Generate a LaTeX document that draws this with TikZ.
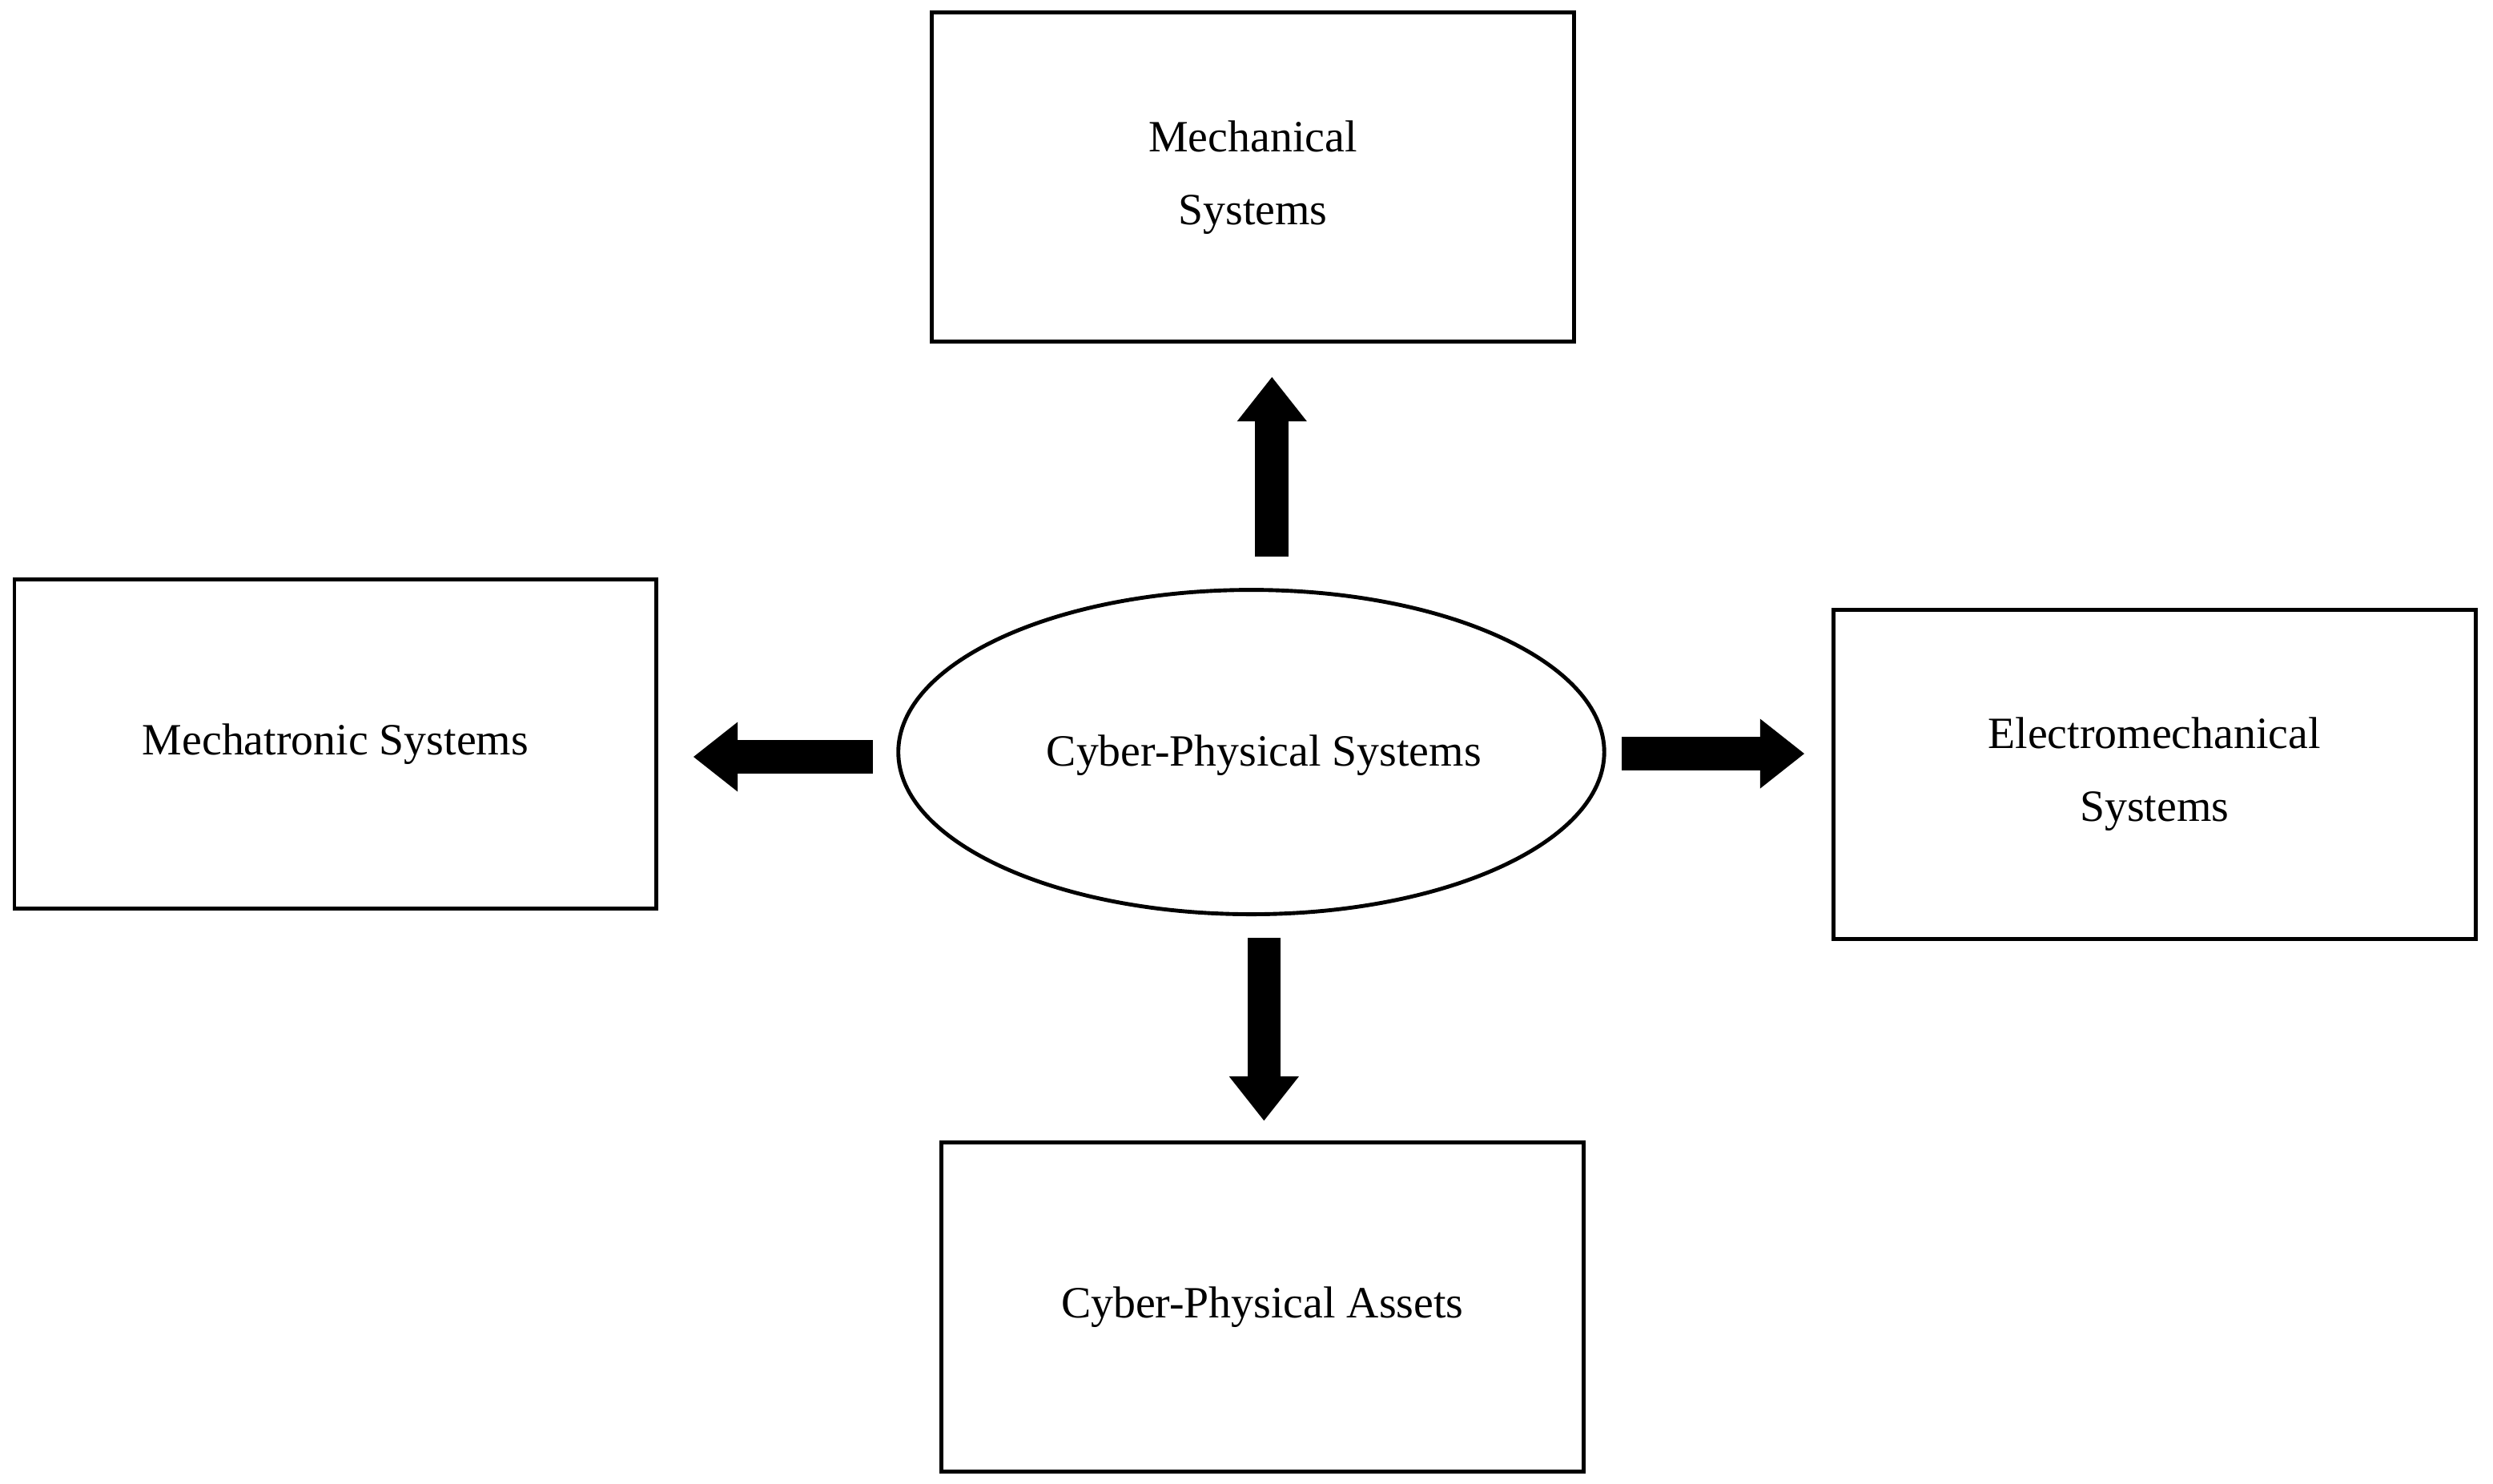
\documentclass[tikz,border=0pt]{standalone}
\usepackage{fontspec}
\setmainfont{Liberation Serif}
\usetikzlibrary{arrows.meta}
\begin{document}
\begin{tikzpicture}[x=0.02cm,y=-0.02cm,
  box/.style={draw,line width=1.4pt,minimum width=8.08cm,minimum height=4.14cm,align=center,font=\fontsize{16}{26}\selectfont},
  big/.style={line width=0.42cm,-{Triangle[length=0.56cm,width=0.84cm]}}]
\useasboundingbox (0,0) rectangle (1568,933);
\node[box] (mech) at (788,111.5) {Mechanical\\Systems};
\node[box] (mtr) at (211,468) {Mechatronic Systems};
\node[box] (em) at (1355,487) {Electromechanical\\Systems};
\node[box] (cpa) at (794,822) {Cyber-Physical Assets};
\draw[line width=1.4pt] (787,473) ellipse [x radius=222, y radius=102];
\node[font=\fontsize{16}{20}\selectfont] (cps) at (795,475) {Cyber-Physical Systems};
\coordinate (u0) at (800,350); \coordinate (u1) at (800,237);
\coordinate (l0) at (549,476); \coordinate (l1) at (436,476);
\coordinate (r0) at (1020,474); \coordinate (r1) at (1135,474);
\coordinate (d0) at (795,590); \coordinate (d1) at (795,705);
\draw[big] (u0) -- (u1);
\draw[big] (l0) -- (l1);
\draw[big] (r0) -- (r1);
\draw[big] (d0) -- (d1);
\end{tikzpicture}
\end{document}
